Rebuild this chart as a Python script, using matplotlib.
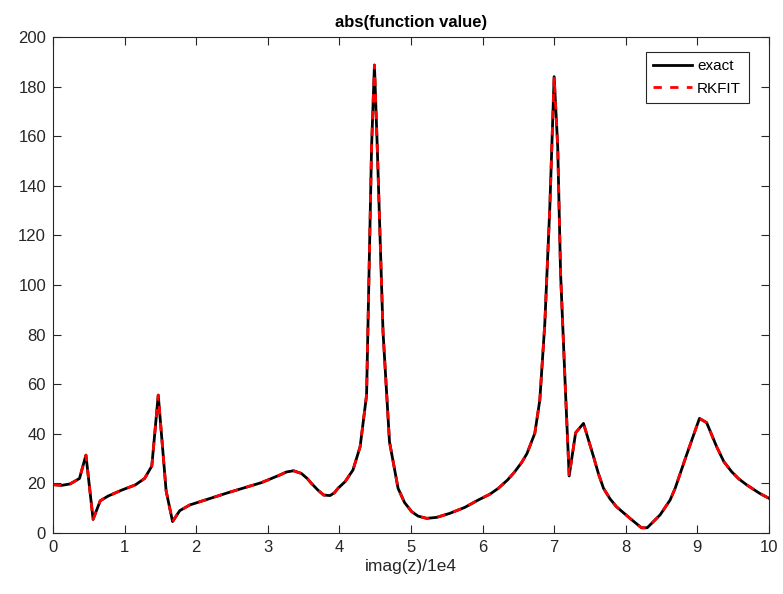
import matplotlib
matplotlib.use("Agg")
import matplotlib.pyplot as plt

# sample points (imag(z)/1e4, |f|)
x_vals = [0.0, 0.12, 0.24, 0.37, 0.46, 0.56, 0.66, 0.77, 0.96, 1.15, 1.28, 1.38,
          1.47, 1.58, 1.67, 1.77, 1.91, 2.05, 2.45, 2.91, 3.17, 3.26, 3.36, 3.47,
          3.55, 3.61, 3.70, 3.78, 3.87, 3.93, 3.98, 4.08, 4.19, 4.29, 4.38, 4.45,
          4.49, 4.53, 4.61, 4.70, 4.82, 4.91, 5.01, 5.10, 5.22, 5.36, 5.54, 5.75,
          5.94, 6.10, 6.22, 6.35, 6.45, 6.55, 6.62, 6.73, 6.80, 6.87, 6.94, 7.00,
          7.05, 7.09, 7.16, 7.21, 7.30, 7.41, 7.55, 7.62, 7.69, 7.78, 7.87, 8.06,
          8.22, 8.30, 8.48, 8.62, 8.69, 8.85, 9.03, 9.13, 9.27, 9.37, 9.48, 9.58,
          9.69, 9.87, 10.0]
y_vals = [19.5, 19.2, 19.8, 22.0, 31.4, 5.5, 13.0, 14.9, 17.3, 19.4, 22.0, 27.0,
          55.6, 17.0, 4.6, 9.0, 11.3, 12.6, 16.3, 20.3, 23.4, 24.6, 25.1, 24.0,
          22.0, 20.0, 17.3, 15.3, 15.1, 16.2, 18.0, 20.7, 25.4, 34.8, 55.6, 155.8,
          188.7, 155.0, 81.0, 36.8, 18.0, 12.3, 8.6, 6.8, 5.9, 6.3, 7.9, 10.3,
          13.3, 15.6, 18.0, 21.4, 24.7, 28.6, 32.0, 40.2, 53.6, 84.6, 131.6, 184.0,
          155.8, 104.7, 56.0, 23.0, 40.4, 44.2, 30.8, 23.8, 18.0, 13.8, 10.6, 5.9,
          2.1, 2.1, 7.3, 13.3, 18.0, 31.5, 46.2, 44.5, 34.8, 28.8, 24.7, 21.8,
          19.4, 16.0, 14.0]
series_names = ["exact", "RKFIT"]

plt.rcParams["font.family"] = ["Liberation Sans", "DejaVu Sans"]

fig = plt.figure(figsize=(7.83, 5.94), dpi=100)
ax = fig.add_axes([0.0677, 0.1027, 0.9143, 0.835])

ax.plot(x_vals, y_vals, color="black", lw=2, label=series_names[0])
ax.plot(x_vals, y_vals, color="red", lw=2, ls=(0, (3, 3)), label=series_names[1])

ax.set_xlim(0, 10)
ax.set_ylim(0, 200)
ax.set_xticks(range(0, 11))
ax.set_yticks(range(0, 201, 20))
ax.tick_params(direction="in", labelsize=12, colors="#262626", length=6,
               pad=5, top=True, right=True)
for s in ax.spines.values():
    s.set_color("#262626")
    s.set_linewidth(0.8)

ax.set_title("abs(function value)", fontsize=12, fontweight="bold", pad=7)
ax.set_xlabel("imag(z)/1e4", fontsize=12.5, color="#262626", labelpad=3)

leg = ax.legend(loc="upper right", bbox_to_anchor=(0.978, 0.98), fontsize=11,
                fancybox=False, framealpha=1, edgecolor="#262626",
                handlelength=2.5, borderaxespad=0.3, labelspacing=0.55,
                handletextpad=0.35, borderpad=0.5)
leg.get_frame().set_linewidth(0.8)

plt.savefig("out.png", dpi=100)
